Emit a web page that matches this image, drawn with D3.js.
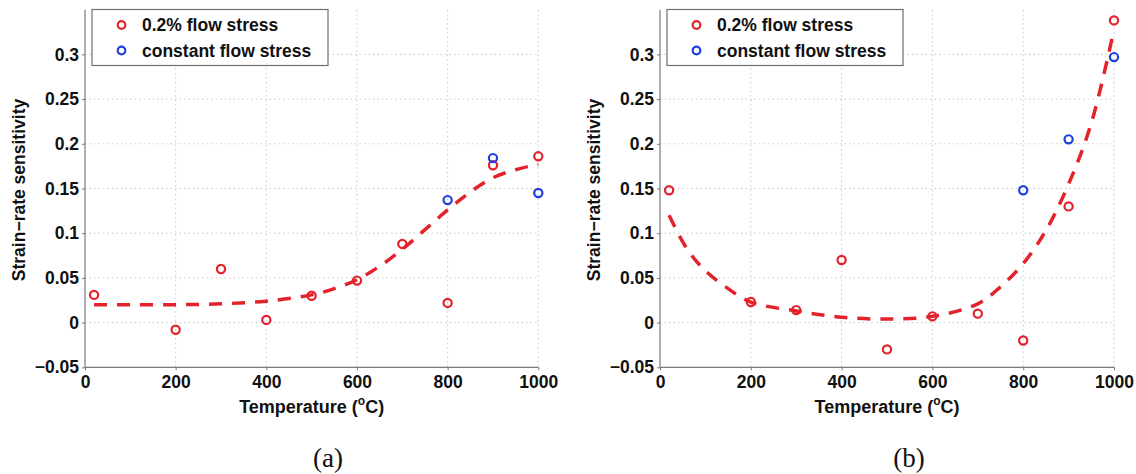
<!DOCTYPE html>
<html>
<head>
<meta charset="utf-8">
<script src="https://cdn.jsdelivr.net/npm/d3@7"></script>
<style>
  html, body { margin: 0; padding: 0; background: #fff; }
  svg { display: block; }
  text { font-family: "Liberation Sans", Arial, sans-serif; font-weight: bold; fill: #111; }
  .cap { font-family: "Liberation Serif", "Times New Roman", serif; font-weight: normal; }
</style>
</head>
<body>
<svg id="chart" width="1136" height="474"></svg>
<script>
// ---------- data ----------
const xTicks = [0, 200, 400, 600, 800, 1000];
const yTicks = [-0.05, 0, 0.05, 0.1, 0.15, 0.2, 0.25, 0.3];
const yTickLabels = ["\u22120.05", "0", "0.05", "0.1", "0.15", "0.2", "0.25", "0.3"];
const seriesNames = ["0.2% flow stress", "constant flow stress"];

// panel (a)
const flowTempA = [20, 200, 300, 400, 500, 600, 700, 800, 900, 1000];
const flowA = [0.031, -0.008, 0.060, 0.003, 0.030, 0.047, 0.088, 0.022, 0.176, 0.186];
const constTempA = [800, 900, 1000];
const constA = [0.137, 0.184, 0.145];
const fitTempA = [20, 100, 200, 300, 400, 500, 550, 600, 650, 700, 750, 800, 850, 900, 950, 1000];
const fitA = [0.020, 0.020, 0.020, 0.021, 0.024, 0.031, 0.038, 0.048, 0.063, 0.082, 0.104, 0.126, 0.146, 0.162, 0.171, 0.177];

// panel (b)
const flowTempB = [20, 200, 300, 400, 500, 600, 700, 800, 900, 1000];
const flowB = [0.148, 0.023, 0.014, 0.070, -0.030, 0.007, 0.010, -0.020, 0.130, 0.338];
const constTempB = [800, 900, 1000];
const constB = [0.148, 0.205, 0.297];
const fitTempB = [20, 60, 100, 150, 200, 300, 400, 500, 600, 700, 750, 800, 850, 900, 950, 1000];
const fitB = [0.120, 0.082, 0.058, 0.038, 0.023, 0.013, 0.006, 0.004, 0.007, 0.021, 0.040, 0.066, 0.103, 0.155, 0.223, 0.328];

const captions = ["(a)", "(b)"];

// ---------- drawing ----------
const RED = "#e3222b", BLUE = "#1f3fe0";
const svg = d3.select("#chart");

const panels = [
  { left: 85, right: 538.3, ylab: 19, cap: 328, flowT: flowTempA, flow: flowA, cT: constTempA, c: constA, fT: fitTempA, f: fitA, caption: captions[0] },
  { left: 660, right: 1114, ylab: 594, cap: 909, flowT: flowTempB, flow: flowB, cT: constTempB, c: constB, fT: fitTempB, f: fitB, caption: captions[1] }
];

const plotTop = 9.7, plotBottom = 367.3;

panels.forEach(p => {
  const x = d3.scaleLinear().domain([0, 1000]).range([p.left, p.right]);
  const y = d3.scaleLinear().domain([-0.05, 0.35]).range([plotBottom, plotTop]);
  const g = svg.append("g");

  // grid
  g.append("g").selectAll("line").data(xTicks.filter(t => t > 0)).join("line")
    .attr("x1", d => x(d)).attr("x2", d => x(d)).attr("y1", plotTop).attr("y2", plotBottom)
    .attr("stroke", "#c8c8c8").attr("stroke-width", 1).attr("stroke-dasharray", "1.5,3");
  g.append("g").selectAll("line").data(yTicks.filter(t => t > -0.05)).join("line")
    .attr("x1", p.left).attr("x2", p.right).attr("y1", d => y(d)).attr("y2", d => y(d))
    .attr("stroke", "#c8c8c8").attr("stroke-width", 1).attr("stroke-dasharray", "1.5,3");

  // axes
  const ax = g.append("g").attr("transform", `translate(0,${plotBottom})`)
    .call(d3.axisBottom(x).tickValues(xTicks).tickSize(3).tickPadding(6).tickFormat(d3.format("d")));
  const ay = g.append("g").attr("transform", `translate(${p.left},0)`)
    .call(d3.axisLeft(y).tickValues(yTicks).tickSize(3).tickPadding(3).tickFormat((d, i) => yTickLabels[i]));
  [ax, ay].forEach(a => {
    a.select(".domain").attr("stroke", "#7a7a7a").attr("stroke-width", 1.2);
    a.selectAll(".tick line").attr("stroke", "#7a7a7a");
    a.selectAll("text").attr("font-size", 17.5).attr("font-family", "Liberation Sans, Arial, sans-serif")
      .attr("font-weight", "bold").attr("fill", "#111");
  });
  ax.select(".domain").attr("d", `M${p.left},0H${p.right}`);
  ay.select(".domain").attr("d", `M0,${plotTop}V${plotBottom}`);
  ax.selectAll("text").attr("dy", "0.71em").attr("y", 8);

  // fit curve
  const line = d3.line().x(d => x(d[0])).y(d => y(d[1])).curve(d3.curveCatmullRom);
  g.append("path").datum(p.fT.map((t, i) => [t, p.f[i]]))
    .attr("d", line).attr("fill", "none").attr("stroke", RED)
    .attr("stroke-width", 3.5).attr("stroke-dasharray", "13,10");

  // markers
  g.append("g").selectAll("circle").data(p.flowT.map((t, i) => [t, p.flow[i]])).join("circle")
    .attr("cx", d => x(d[0])).attr("cy", d => y(d[1])).attr("r", 4.1)
    .attr("fill", "none").attr("stroke", RED).attr("stroke-width", 2.2);
  g.append("g").selectAll("circle").data(p.cT.map((t, i) => [t, p.c[i]])).join("circle")
    .attr("cx", d => x(d[0])).attr("cy", d => y(d[1])).attr("r", 4.1)
    .attr("fill", "none").attr("stroke", BLUE).attr("stroke-width", 2.2);

  // legend
  const lx = p.left + 7, ly = 9.5, lw = 236, lh = 56;
  const lg = g.append("g");
  lg.append("rect").attr("x", lx).attr("y", ly).attr("width", lw).attr("height", lh)
    .attr("fill", "#fff").attr("stroke", "#6e6e6e").attr("stroke-width", 1.2);
  [RED, BLUE].forEach((c, i) => {
    const cy = ly + 15.5 + i * 25.5;
    lg.append("circle").attr("cx", lx + 29.5).attr("cy", cy).attr("r", 3.8)
      .attr("fill", "none").attr("stroke", c).attr("stroke-width", 2.2);
    lg.append("text").attr("x", lx + 50).attr("y", cy + 6.3).attr("font-size", 17.5).text(seriesNames[i]);
  });

  // axis labels
  const xl = g.append("text").attr("x", (p.left + p.right) / 2).attr("y", 413)
    .attr("text-anchor", "middle").attr("font-size", 18);
  xl.append("tspan").text("Temperature (");
  xl.append("tspan").attr("font-size", 12).attr("dy", -8).text("o");
  xl.append("tspan").attr("dy", 8).text("C)");

  g.append("text").attr("transform", `translate(${p.ylab},190) rotate(-90)`)
    .attr("text-anchor", "middle").attr("dy", "0.35em").attr("font-size", 17.5)
    .text("Strain\u2212rate sensitivity");

  g.append("text").attr("class", "cap").attr("x", p.cap).attr("y", 467)
    .attr("text-anchor", "middle").attr("font-size", 27).text(p.caption);
});
</script>
</body>
</html>
